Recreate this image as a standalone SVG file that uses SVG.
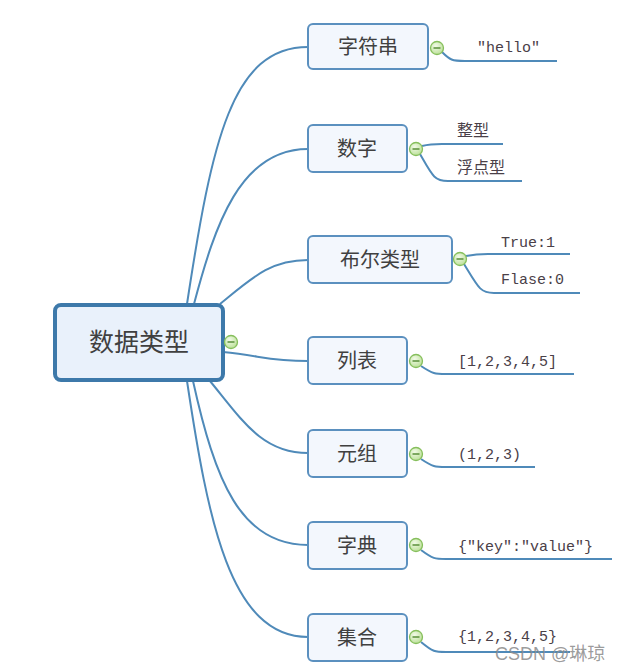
<svg xmlns="http://www.w3.org/2000/svg" width="622" height="670" viewBox="0 0 622 670">
<style>
.bg{fill:#ffffff}
.line{fill:none;stroke:#4f8ab9;stroke-width:2}
.node{fill:#f3f7fd;stroke:#5b90bf;stroke-width:2}
.root{fill:#e9f1fb;stroke:#3d79aa;stroke-width:4}
.lbl{font-family:"Noto Sans CJK SC","Liberation Sans",sans-serif;font-size:20px;fill:#404040;text-anchor:middle}
.rootlbl{font-family:"Noto Sans CJK SC","Liberation Sans",sans-serif;font-size:25px;fill:#404040;text-anchor:middle}
.val{font-family:"Liberation Mono","Noto Sans CJK SC",monospace;font-size:15px;fill:#4a4048}
.cval{font-family:"Noto Sans CJK SC","Liberation Sans",sans-serif;font-size:16px;fill:#4a4048}
.wm{font-family:"Liberation Sans","Noto Sans CJK SC",sans-serif;font-size:17px;fill:#8a8a8a;fill-opacity:0.85}
</style>
<defs>
<radialGradient id="g" cx="0.4" cy="0.35" r="0.7">
<stop offset="0" stop-color="#f2fae8"/>
<stop offset="1" stop-color="#b9df95"/>
</radialGradient>
<g id="tog">
<circle cx="0" cy="0" r="6.5" fill="url(#g)" stroke="#86bf5c" stroke-width="1.3"/>
<line x1="-3.5" y1="0" x2="3.5" y2="0" stroke="#5a8f3a" stroke-width="1.5"/>
</g>
</defs>
<rect class="bg" x="0" y="0" width="622" height="670"/>
<g id="connectors">
<path class="line" d="M187,304 C212,140 232,47 308,47"/>
<path class="line" d="M194,304 C215,225 240,149 308,149"/>
<path class="line" d="M220,304 C252,278 270,260 308,260"/>
<path class="line" d="M223,352 C262,356 270,361 308,361"/>
<path class="line" d="M210,381 C242,420 262,453 308,453"/>
<path class="line" d="M193,381 C215,480 240,545 308,545"/>
<path class="line" d="M187,381 C208,520 230,637 308,637"/>
<path class="line" d="M442,52 C450,60 452,61 465,61 L557,61"/>
<path class="line" d="M422,146 C430,144 432,144 442,144 L503,144"/>
<path class="line" d="M420,154 C432,175 434,181 448,181 L522,181"/>
<path class="line" d="M466,256 C476,254 478,254 488,254 L570,254"/>
<path class="line" d="M464,264 C478,287 480,293 494,293 L580,293"/>
<path class="line" d="M421,366 C433,374 435,374 446,374 L574,374"/>
<path class="line" d="M421,459 C433,467 435,467 446,467 L535,467"/>
<path class="line" d="M421,550 C433,559 435,559 446,559 L612,559"/>
<path class="line" d="M421,642 C433,652 435,652 446,652 L570,652"/>
</g>
<g id="root">
<rect class="root" x="55" y="305" width="168" height="75" rx="6"/>
<text class="rootlbl" x="139" y="351">数据类型</text>
<use href="#tog" x="231" y="342"/>
</g>
<g id="n-str">
<rect class="node" x="308" y="24" width="120" height="45" rx="5"/>
<text class="lbl" x="368" y="54">字符串</text>
<use href="#tog" x="437" y="48"/>
<text class="val" x="477" y="52">"hello"</text>
</g>
<g id="n-num">
<rect class="node" x="308" y="125" width="99" height="47" rx="5"/>
<text class="lbl" x="357" y="156">数字</text>
<use href="#tog" x="416" y="149"/>
<text class="cval" x="457" y="136">整型</text>
<text class="cval" x="457" y="173">浮点型</text>
</g>
<g id="n-bool">
<rect class="node" x="308" y="236" width="144" height="47" rx="5"/>
<text class="lbl" x="380" y="267">布尔类型</text>
<use href="#tog" x="460" y="259"/>
<text class="val" x="501" y="247">True:1</text>
<text class="val" x="501" y="284">Flase:0</text>
</g>
<g id="n-list">
<rect class="node" x="308" y="337" width="99" height="47" rx="5"/>
<text class="lbl" x="357" y="368">列表</text>
<use href="#tog" x="416" y="361"/>
<text class="val" x="458" y="366">[1,2,3,4,5]</text>
</g>
<g id="n-tuple">
<rect class="node" x="308" y="430" width="99" height="47" rx="5"/>
<text class="lbl" x="357" y="461">元组</text>
<use href="#tog" x="416" y="454"/>
<text class="val" x="458" y="459">(1,2,3)</text>
</g>
<g id="n-dict">
<rect class="node" x="308" y="522" width="99" height="47" rx="5"/>
<text class="lbl" x="357" y="553">字典</text>
<use href="#tog" x="416" y="545"/>
<text class="val" x="458" y="551">{"key":"value"}</text>
</g>
<g id="n-set">
<rect class="node" x="308" y="614" width="99" height="47" rx="5"/>
<text class="lbl" x="357" y="645">集合</text>
<use href="#tog" x="416" y="637"/>
<text class="val" x="458" y="641">{1,2,3,4,5}</text>
</g>
<text class="wm" x="495" y="660" style="font-size:18px">CSDN @琳琼</text>
</svg>
